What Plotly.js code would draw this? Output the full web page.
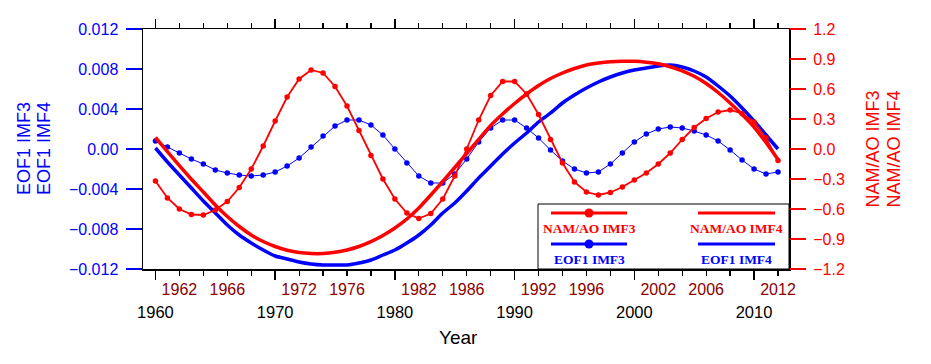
<!DOCTYPE html>
<html>
<head>
<meta charset="utf-8">
<script src="https://cdn.plot.ly/plotly-3.0.1.min.js"></script>
<style>html,body{margin:0;padding:0;background:#fff;}#chart{width:931px;height:364px;}</style>
</head>
<body>
<div id="chart"></div>
<script>
// ---------------- DATA ----------------
const years = [1960,1961,1962,1963,1964,1965,1966,1967,1968,1969,
  1970,1971,1972,1973,1974,1975,1976,1977,1978,1979,
  1980,1981,1982,1983,1984,1985,1986,1987,1988,1989,
  1990,1991,1992,1993,1994,1995,1996,1997,1998,1999,
  2000,2001,2002,2003,2004,2005,2006,2007,2008,2009,
  2010,2011,2012];

// EOF1 IMF3 (left axis)
const eof1Imf3 = [0.0008,0.0002,-0.0004,-0.0010,-0.0015,-0.0021,-0.0024,-0.0026,-0.0027,-0.0026,
  -0.0023,-0.0017,-0.0009,0.0002,0.0013,0.0023,0.0029,0.0029,0.0024,0.0014,
  0.0000,-0.0014,-0.0027,-0.0034,-0.0034,-0.0025,-0.0010,0.0007,0.0021,0.0029,
  0.0029,0.0021,0.0011,-0.0001,-0.0012,-0.0020,-0.0024,-0.0023,-0.0015,-0.0004,
  0.0007,0.0015,0.0020,0.0022,0.0021,0.0018,0.0014,0.0008,-0.0001,-0.0011,
  -0.0020,-0.0025,-0.0023];

// EOF1 IMF4 (left axis)
const eof1Imf4 = [0.0001,-0.0013,-0.0026,-0.0039,-0.0052,-0.0064,-0.0076,-0.0086,-0.0094,-0.0101,
  -0.0107,-0.0110,-0.0113,-0.0115,-0.0116,-0.0116,-0.0116,-0.0114,-0.0111,-0.0106,
  -0.0101,-0.0094,-0.0086,-0.0076,-0.0064,-0.0054,-0.0042,-0.0029,-0.0017,-0.0005,
  0.0006,0.0016,0.0027,0.0036,0.0046,0.0054,0.0061,0.0067,0.0072,0.0076,
  0.0079,0.0081,0.0083,0.0084,0.0082,0.0078,0.0072,0.0063,0.0053,0.0041,
  0.0028,0.0014,0.0000];

// NAM/AO IMF3 (right axis)
const namImf3 = [-0.32,-0.49,-0.60,-0.655,-0.66,-0.61,-0.525,-0.385,-0.20,0.03,
  0.28,0.52,0.70,0.79,0.76,0.625,0.43,0.185,-0.065,-0.30,
  -0.50,-0.64,-0.695,-0.645,-0.50,-0.27,0.00,0.29,0.535,0.675,
  0.675,0.55,0.345,0.095,-0.14,-0.33,-0.43,-0.46,-0.435,-0.38,
  -0.31,-0.24,-0.15,-0.04,0.095,0.215,0.305,0.37,0.39,0.355,
  0.27,0.11,-0.115];

// NAM/AO IMF4 (right axis)
const namImf4 = [0.115,-0.027,-0.167,-0.303,-0.43,-0.56,-0.675,-0.775,-0.86,-0.925,
  -0.975,-1.012,-1.035,-1.045,-1.045,-1.033,-1.01,-0.975,-0.927,-0.865,
  -0.79,-0.70,-0.59,-0.46,-0.325,-0.185,-0.045,0.095,0.235,0.35,
  0.455,0.55,0.635,0.705,0.76,0.805,0.84,0.86,0.873,0.878,
  0.877,0.868,0.852,0.823,0.782,0.727,0.655,0.565,0.46,0.345,
  0.22,0.065,-0.105];

// Tick labels
const leftTickVals = [-0.012,-0.008,-0.004,0,0.004,0.008,0.012];
const leftTickText = ['\u22120.012','\u22120.008','\u22120.004','0.00','0.004','0.008','0.012'];
const rightTickVals = [-1.2,-0.9,-0.6,-0.3,0,0.3,0.6,0.9,1.2];
const rightTickText = ['\u22121.2','\u22120.9','\u22120.6','\u22120.3','0.0','0.3','0.6','0.9','1.2'];
const bottomTickVals = [1960,1970,1980,1990,2000,2010];
const bottomTickText = ['1960','1970','1980','1990','2000','2010'];
const redTickVals = [1962,1966,1972,1976,1982,1986,1992,1996,2002,2006,2012];
const redTickText = ['1962','1966','1972','1976','1982','1986','1992','1996','2002','2006','2012'];

// ---------------- STYLE / LAYOUT ----------------
const RED = '#ff0000', BLUE = '#0000ff', DARKRED = '#8b0000';
const FONT = 'Liberation Sans, Arial, Helvetica, sans-serif';
const SERIF = 'Liberation Serif, Times New Roman, serif';
const W = 931, H = 364, L = 143, R = 789, T = 29, B = 269;
const px = X => (X - L) / (R - L);
const py = Y => (B - Y) / (B - T);
const XR = [1958.96, 2012.92];

const traces = [
  {x: years, y: eof1Imf3, type: 'scatter', mode: 'lines+markers', name: 'EOF1 IMF3',
   line: {color: BLUE, width: 1}, marker: {color: BLUE, size: 5.5}, xaxis: 'x', yaxis: 'y'},
  {x: years, y: eof1Imf4, type: 'scatter', mode: 'lines', name: 'EOF1 IMF4',
   line: {color: BLUE, width: 3.5, shape: 'spline', smoothing: 0.6}, xaxis: 'x', yaxis: 'y'},
  {x: years, y: namImf3, type: 'scatter', mode: 'lines+markers', name: 'NAM/AO IMF3',
   line: {color: RED, width: 1.8}, marker: {color: RED, size: 5.5}, xaxis: 'x', yaxis: 'y2'},
  {x: years, y: namImf4, type: 'scatter', mode: 'lines', name: 'NAM/AO IMF4',
   line: {color: RED, width: 3.5, shape: 'spline', smoothing: 0.6}, xaxis: 'x', yaxis: 'y2'},
  {x: [], y: [], type: 'scatter', mode: 'lines', xaxis: 'x2', yaxis: 'y', showlegend: false, hoverinfo: 'skip'}
];

const shapes = [];
const annotations = [];

// manual legend
shapes.push({type: 'rect', xref: 'paper', yref: 'paper', x0: px(538), x1: px(789), y0: py(269), y1: py(204),
  fillcolor: '#ffffff', line: {color: '#000', width: 1}, layer: 'above'});
const legendItems = [
  {x0: 551, x1: 627, y: 213, color: RED, dot: true, label: 'NAM/AO IMF3'},
  {x0: 551, x1: 627, y: 244, color: BLUE, dot: true, label: 'EOF1 IMF3'},
  {x0: 698, x1: 775, y: 213, color: RED, dot: false, label: 'NAM/AO IMF4'},
  {x0: 698, x1: 775, y: 244, color: BLUE, dot: false, label: 'EOF1 IMF4'}
];
legendItems.forEach(it => {
  shapes.push({type: 'line', xref: 'paper', yref: 'paper', x0: px(it.x0), x1: px(it.x1), y0: py(it.y), y1: py(it.y),
    line: {color: it.color, width: 3}, layer: 'above'});
  const cx = (it.x0 + it.x1) / 2;
  if (it.dot) {
    const r = 4.5;
    shapes.push({type: 'circle', xref: 'paper', yref: 'paper', x0: px(cx - r), x1: px(cx + r), y0: py(it.y + r), y1: py(it.y - r),
      fillcolor: it.color, line: {color: it.color, width: 0}, layer: 'above'});
  }
  annotations.push({xref: 'paper', yref: 'paper', x: px(cx), y: py(it.y + 15.5), text: '<b>' + it.label + '</b>',
    showarrow: false, xanchor: 'center', yanchor: 'middle', font: {family: SERIF, size: 13.5, color: it.color}});
});

// axis titles
annotations.push({xref: 'paper', yref: 'paper', x: px(24), y: py(149), text: 'EOF1 IMF3', textangle: -90,
  showarrow: false, xanchor: 'center', yanchor: 'middle', font: {family: FONT, size: 18, color: BLUE}});
annotations.push({xref: 'paper', yref: 'paper', x: px(44), y: py(149), text: 'EOF1 IMF4', textangle: -90,
  showarrow: false, xanchor: 'center', yanchor: 'middle', font: {family: FONT, size: 18, color: BLUE}});
annotations.push({xref: 'paper', yref: 'paper', x: px(872.5), y: py(149), text: 'NAM/AO IMF3', textangle: -90,
  showarrow: false, xanchor: 'center', yanchor: 'middle', font: {family: FONT, size: 18, color: RED}});
annotations.push({xref: 'paper', yref: 'paper', x: px(893.5), y: py(149), text: 'NAM/AO IMF4', textangle: -90,
  showarrow: false, xanchor: 'center', yanchor: 'middle', font: {family: FONT, size: 18, color: RED}});
annotations.push({xref: 'paper', yref: 'paper', x: px(458), y: py(337), text: 'Year',
  showarrow: false, xanchor: 'center', yanchor: 'middle', font: {family: FONT, size: 19, color: '#000'}});

const layout = {
  width: W, height: H,
  margin: {l: L, r: W - R, t: T, b: H - B, pad: 0},
  paper_bgcolor: '#fff', plot_bgcolor: '#fff',
  showlegend: false,
  font: {family: FONT},
  xaxis: {range: XR, tickmode: 'array', tickvals: bottomTickVals, ticktext: bottomTickText,
    ticks: 'outside', ticklen: 9, tickwidth: 1.5, tickcolor: '#000',
    showline: true, linecolor: '#000', linewidth: 1.5, mirror: 'ticks',
    showgrid: false, zeroline: false, ticklabelstandoff: 19,
    tickfont: {family: FONT, size: 16.5, color: '#000'},
    minor: {tickmode: 'linear', tick0: 1960, dtick: 2, ticks: 'outside', ticklen: 5, tickwidth: 1.2, tickcolor: '#000', showgrid: false}},
  xaxis2: {range: XR, overlaying: 'x', anchor: 'y', side: 'bottom', tickmode: 'array',
    tickvals: redTickVals, ticktext: redTickText, ticks: '', showline: false, showgrid: false, zeroline: false,
    ticklabelstandoff: 9, tickfont: {family: FONT, size: 16, color: DARKRED}},
  yaxis: {range: [-0.012, 0.012], tickmode: 'array', tickvals: leftTickVals, ticktext: leftTickText,
    ticks: 'outside', ticklen: 16, tickwidth: 1.5, tickcolor: BLUE,
    showline: true, linecolor: '#000', linewidth: 1.5, mirror: true,
    showgrid: false, zeroline: false, ticklabelstandoff: 4,
    tickfont: {family: FONT, size: 16, color: BLUE}},
  yaxis2: {range: [-1.2, 1.2], overlaying: 'y', side: 'right', tickmode: 'array',
    tickvals: rightTickVals, ticktext: rightTickText,
    ticks: 'outside', ticklen: 16, tickwidth: 1.5, tickcolor: RED,
    showline: false, showgrid: false, zeroline: false, ticklabelstandoff: 4,
    tickfont: {family: FONT, size: 16, color: RED}},
  shapes: shapes,
  annotations: annotations
};

Plotly.newPlot('chart', traces, layout, {staticPlot: true, displayModeBar: false});
</script>
</body>
</html>
